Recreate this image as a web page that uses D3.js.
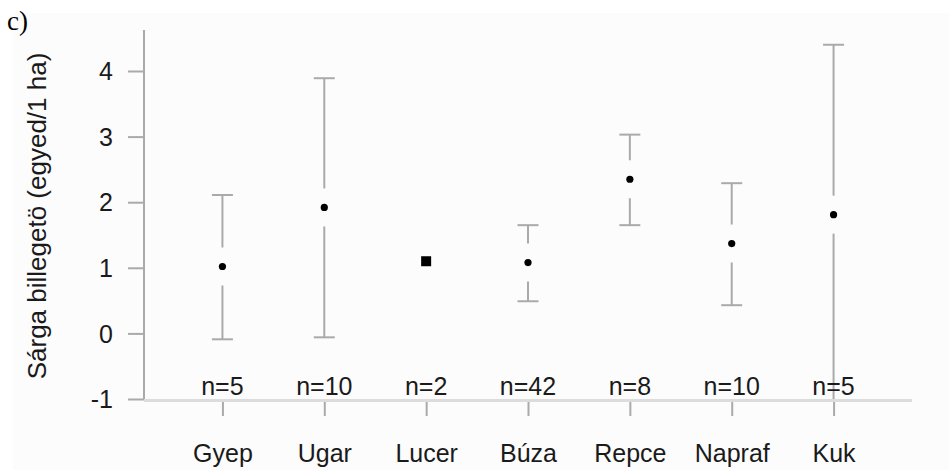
<!DOCTYPE html>
<html>
<head>
<meta charset="utf-8">
<script src="https://cdn.jsdelivr.net/npm/d3@7"></script>
<style>
  body { margin: 0; background: #fff; }
  svg text { font-family: "Liberation Sans", Arial, sans-serif; fill: #1a1a1a; }
</style>
</head>
<body>
<svg id="chart" width="949" height="470"></svg>
<script>
// data
var categories = ["Gyep", "Ugar", "Lucer", "Búza", "Repce", "Napraf", "Kuk"];
var means      = [1.02, 1.92, 1.10, 1.08, 2.35, 1.37, 1.81];
var upper      = [2.11, 3.89, null, 1.65, 3.03, 2.29, 4.40];
var lower      = [-0.09, -0.06, null, 0.49, 1.65, 0.43, -1.3];
var nCounts    = [5, 10, 2, 42, 8, 10, 5];
var yTicks     = [-1, 0, 1, 2, 3, 4];

var svg = d3.select("#chart");

var plotLeft = 144, plotRight = 912, plotBottom = 399, plotTop = 30;

var x = d3.scalePoint()
  .domain(categories)
  .range([plotLeft, plotRight])
  .padding(0.77);

var y = d3.scaleLinear()
  .domain([-1, 4])
  .range([plotBottom, 71]);

// faint panel
svg.append("rect")
  .attr("x", 13).attr("y", 13)
  .attr("width", 949 - 13).attr("height", 470 - 13)
  .attr("fill", "#fcfcfc");

// panel letter
svg.append("text")
  .attr("x", 7).attr("y", 30)
  .style("font-family", "'Liberation Serif', 'Times New Roman', serif")
  .style("font-size", "27px")
  .style("fill", "#000")
  .text("c)");

// y axis
var yAxis = d3.axisLeft(y)
  .tickValues(yTicks)
  .tickFormat(function (d) { return String(d); })
  .tickSize(16).tickPadding(15).tickSizeOuter(0);
var gy = svg.append("g").attr("transform", "translate(" + plotLeft + ",0)").call(yAxis);
gy.select(".domain").remove();
gy.selectAll(".tick line").attr("stroke", "#aaa").attr("stroke-width", 2);
gy.selectAll(".tick text").style("font-size", "25px").attr("dy", "0.35em");
svg.append("line")
  .attr("x1", plotLeft).attr("x2", plotLeft)
  .attr("y1", plotTop).attr("y2", plotBottom + 1)
  .attr("stroke", "#aaa").attr("stroke-width", 2);

// x axis
svg.append("line")
  .attr("x1", plotLeft).attr("x2", plotRight)
  .attr("y1", plotBottom + 1.5).attr("y2", plotBottom + 1.5)
  .attr("stroke", "#dcdcdc").attr("stroke-width", 3);
var xAxis = d3.axisBottom(x).tickSize(14).tickPadding(28).tickSizeOuter(0);
var gx = svg.append("g").attr("transform", "translate(0," + (plotBottom + 3) + ")").call(xAxis);
gx.select(".domain").remove();
gx.selectAll(".tick line").attr("stroke", "#aaa").attr("stroke-width", 2);
gx.selectAll(".tick text").style("font-size", "25px");

// y title
svg.append("text")
  .attr("transform", "translate(46,216) rotate(-90)")
  .attr("text-anchor", "middle")
  .style("font-size", "26px")
  .text("Sárga billegetö (egyed/1 ha)");

// clip for error bars
svg.append("clipPath").attr("id", "plotClip")
  .append("rect").attr("x", plotLeft).attr("y", 0)
  .attr("width", plotRight - plotLeft).attr("height", plotBottom);

var rows = categories.map(function (c, i) {
  return { cat: c, mean: means[i], hi: upper[i], lo: lower[i], n: nCounts[i] };
});

var gap = 19, cap = 10.5;
var bars = svg.append("g").attr("clip-path", "url(#plotClip)")
  .selectAll("g.bar").data(rows.filter(function (d) { return d.hi !== null; }))
  .enter().append("g").attr("class", "bar")
  .attr("stroke", "#aaa").attr("stroke-width", 2);

bars.append("line")
  .attr("x1", function (d) { return x(d.cat); }).attr("x2", function (d) { return x(d.cat); })
  .attr("y1", function (d) { return y(d.hi); })
  .attr("y2", function (d) { return y(d.mean) - gap; });
bars.append("line")
  .attr("x1", function (d) { return x(d.cat); }).attr("x2", function (d) { return x(d.cat); })
  .attr("y1", function (d) { return y(d.mean) + gap; })
  .attr("y2", function (d) { return y(d.lo); });
bars.append("line")
  .attr("x1", function (d) { return x(d.cat) - cap; }).attr("x2", function (d) { return x(d.cat) + cap; })
  .attr("y1", function (d) { return y(d.hi); }).attr("y2", function (d) { return y(d.hi); });
bars.append("line")
  .attr("x1", function (d) { return x(d.cat) - cap; }).attr("x2", function (d) { return x(d.cat) + cap; })
  .attr("y1", function (d) { return y(d.lo); }).attr("y2", function (d) { return y(d.lo); });

// means: dots where there is a bar, a square where there is not
svg.selectAll("circle.mean").data(rows.filter(function (d) { return d.hi !== null; }))
  .enter().append("circle").attr("class", "mean")
  .attr("cx", function (d) { return x(d.cat); })
  .attr("cy", function (d) { return y(d.mean); })
  .attr("r", 3.6).attr("fill", "#000");
svg.selectAll("rect.mean").data(rows.filter(function (d) { return d.hi === null; }))
  .enter().append("rect").attr("class", "mean")
  .attr("x", function (d) { return x(d.cat) - 5; })
  .attr("y", function (d) { return y(d.mean) - 5; })
  .attr("width", 10).attr("height", 10).attr("fill", "#000");

// sample sizes
svg.selectAll("text.n").data(rows).enter().append("text").attr("class", "n")
  .attr("x", function (d) { return x(d.cat); })
  .attr("y", 395)
  .attr("text-anchor", "middle")
  .style("font-size", "25px")
  .text(function (d) { return "n=" + d.n; });
</script>
</body>
</html>
